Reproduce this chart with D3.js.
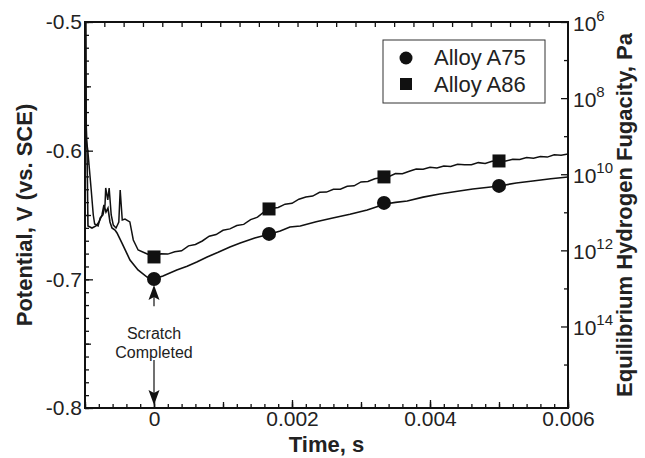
<!DOCTYPE html>
<meta charset="utf-8">
<script src="https://d3js.org/d3.v7.min.js"></script>
<style>
body { margin: 0; background: #fff; }
text { font-family: "Liberation Sans", Arial, sans-serif; fill: #222; }
.tick text { font-size: 21px; }
.title { font-size: 22px; font-weight: bold; }
</style>
<body>
<div id="chart"></div>
</body>
<script>

// Alloy A75 (circles) - potential, V vs SCE
const time75 = [-0.00099, -0.000986, -0.000971, -0.000957, -0.000899, -0.000841, -0.000797, -0.000754,
  -0.000725, -0.000696, -0.000667, -0.000638, -0.000609, -0.000565, -0.000536, -0.000464, -0.000348,
  -0.000232, -0.000101, 0, 0.00013, 0.00033, 0.00048, 0.00062, 0.00077, 0.00093, 0.0011, 0.00125,
  0.00146, 0.00168, 0.00183, 0.00197, 0.00212, 0.00235, 0.00259, 0.00284, 0.00309, 0.00335, 0.0035,
  0.00367, 0.0039, 0.00414, 0.0044, 0.00462, 0.00501, 0.00525, 0.00549, 0.00575, 0.006];
const pot75 = [-0.500, -0.5762, -0.5995, -0.6585, -0.6601, -0.6585, -0.6554, -0.6500,
  -0.6422, -0.6477, -0.6446, -0.6554, -0.6601, -0.6617, -0.6640, -0.6718, -0.6850,
  -0.6927, -0.6982, -0.6997, -0.6974, -0.6927, -0.6899, -0.6865, -0.6826, -0.6790, -0.6749, -0.6718,
  -0.6679, -0.6648, -0.6625, -0.6593, -0.6585, -0.6552, -0.6523, -0.6494, -0.6461, -0.6414, -0.6402,
  -0.6391, -0.6361, -0.6337, -0.6316, -0.6298, -0.6274, -0.6251, -0.6236, -0.6218, -0.6205];

// Alloy A86 (squares)
const time86 = [-0.00099, -0.00098, -0.00096, -0.00091, -0.00088, -0.00086, -0.00081, -0.00078, -0.00074,
  -0.00071, -0.0007, -0.00067, -0.00065, -0.00062, -0.00059, -0.00055, -0.00051, -0.00049, -0.00046,
  -0.00042, -0.00035, -0.0003, -0.00023, -0.00013,
  0, 0.0001, 0.0002, 0.0003, 0.0004, 0.0005, 0.0006, 0.0007, 0.0008, 0.0009, 0.001,
  0.0011, 0.0012, 0.0013, 0.0014, 0.0015, 0.0016, 0.0017, 0.0018, 0.0019, 0.002,
  0.0021, 0.0022, 0.0023, 0.0024, 0.0025, 0.0026, 0.0027, 0.0028, 0.0029, 0.003,
  0.0031, 0.0032, 0.0033, 0.0034, 0.0035, 0.0036, 0.0037, 0.0038, 0.0039, 0.004,
  0.0041, 0.0042, 0.0043, 0.0044, 0.0045, 0.0046, 0.0047, 0.0048, 0.0049, 0.005,
  0.0051, 0.0052, 0.0053, 0.0054, 0.0055, 0.0056, 0.0057, 0.0058, 0.0059, 0.006];
const pot86 = [-0.500, -0.5917, -0.5995, -0.6306, -0.6500, -0.6570, -0.6585, -0.6523, -0.6500,
  -0.6422, -0.6290, -0.6383, -0.6290, -0.6500, -0.6578, -0.6601, -0.6554, -0.6306, -0.6539,
  -0.6531, -0.6554, -0.6694, -0.6772, -0.6795,
  -0.6826, -0.6801, -0.6804, -0.6785, -0.6778, -0.6740, -0.6729, -0.6702, -0.6665, -0.6652, -0.6619,
  -0.6608, -0.6582, -0.6573, -0.6536, -0.6517, -0.6474, -0.6450, -0.6441, -0.6416, -0.6409,
  -0.6377, -0.6360, -0.6353, -0.6324, -0.6322, -0.6300, -0.6299, -0.6277, -0.6273, -0.6243,
  -0.6240, -0.6218, -0.6208, -0.6203, -0.6178, -0.6180, -0.6160, -0.6143, -0.6145, -0.6129,
  -0.6135, -0.6119, -0.6123, -0.6106, -0.6110, -0.6109, -0.6093, -0.6100, -0.6083, -0.6080,
  -0.6081, -0.6066, -0.6068, -0.6053, -0.6059, -0.6046, -0.6050, -0.6032, -0.6035, -0.6026];

// symbols along the curves
const markerTimes = [0, 0.001667, 0.003333, 0.005];
const marker75 = [-0.6997, -0.6647, -0.6406, -0.6274];
const marker86 = [-0.6826, -0.6453, -0.6204, -0.6080];

const xMajor = [0, 0.002, 0.004, 0.006];
const yMajor = [-0.8, -0.7, -0.6, -0.5];
const fugMajor = [6, 8, 10, 12, 14];   // exponents
const fugMinor = [7, 9, 11, 13, 15];
const legendNames = ["Alloy A75", "Alloy A86"];

const W = 645, H = 458;
const margin = {top: 22, right: 77, bottom: 50, left: 85};
const x0 = margin.left, x1 = W - margin.right, y0 = margin.top, y1 = H - margin.bottom;

const svg = d3.select("#chart").append("svg")
  .attr("width", W).attr("height", H);

const x = d3.scaleLinear().domain([-0.001, 0.006]).range([x0, x1]);
const y = d3.scaleLinear().domain([-0.8, -0.5]).range([y1, y0]);
// Nernst: one decade of fugacity = 0.02958 V
const yR = d3.scaleLog().domain([1e6, Math.pow(10, 6 + 0.3 / 0.02958)]).range([y0, y1]);

svg.append("defs").append("clipPath").attr("id", "clip")
  .append("rect").attr("x", x0).attr("y", y0).attr("width", x1 - x0).attr("height", y1 - y0);

function tickGroup(axis, tr) {
  const g = svg.append("g").attr("transform", tr).call(axis);
  g.select(".domain").remove();
  g.selectAll(".tick line").attr("stroke", "#111").attr("stroke-width", 1.3);
  return g;
}

// bottom axis: minor, medium, major
const xMinor = d3.range(-5, 31).map(i => i * 0.0002);
const xMed = d3.range(-1, 7).map(i => i * 0.001);
tickGroup(d3.axisBottom(x).tickValues(xMinor).tickSize(-4).tickFormat(""), `translate(0,${y1})`);
tickGroup(d3.axisBottom(x).tickValues(xMed).tickSize(-6).tickFormat(""), `translate(0,${y1})`);
tickGroup(d3.axisBottom(x).tickValues(xMajor).tickSize(-8).tickPadding(3)
  .tickFormat(d => d === 0 ? "0" : d.toFixed(3)), `translate(0,${y1})`);

// top axis ticks
const xTop = d3.scaleLinear().domain([0, 25]).range([x0, x1]);
tickGroup(d3.axisTop(xTop).tickValues(d3.range(1, 25)).tickSize(-5).tickFormat(""), `translate(0,${y0})`);

// left axis
const yMinor = d3.range(-80, -49).map(i => i / 100);
const yMed = [-0.75, -0.65, -0.55];
tickGroup(d3.axisLeft(y).tickValues(yMinor).tickSize(-4).tickFormat(""), `translate(${x0},0)`);
tickGroup(d3.axisLeft(y).tickValues(yMed).tickSize(-6).tickFormat(""), `translate(${x0},0)`);
tickGroup(d3.axisLeft(y).tickValues(yMajor).tickSize(-8).tickPadding(3)
  .tickFormat(d => d.toFixed(1)), `translate(${x0},0)`);

// right axis (log fugacity)
tickGroup(d3.axisRight(yR).tickValues(fugMinor.map(e => Math.pow(10, e))).tickSize(-4).tickFormat(""), `translate(${x1},0)`);
tickGroup(d3.axisRight(yR).tickValues(fugMajor.map(e => Math.pow(10, e))).tickSize(-7).tickFormat(""), `translate(${x1},0)`);
fugMajor.forEach(e => {
  const t = svg.append("text")
    .attr("x", x1 + 5)
    .attr("y", yR(Math.pow(10, e)) + 9)
    .style("font-size", "21px");
  t.append("tspan").text("10");
  t.append("tspan").attr("dy", -10).style("font-size", "15px").text(e);
});

// frame
svg.append("rect").attr("x", x0).attr("y", y0).attr("width", x1 - x0).attr("height", y1 - y0)
  .attr("fill", "none").attr("stroke", "#111").attr("stroke-width", 2);

// curves
const line = d3.line().x(d => x(d[0])).y(d => y(d[1]));
const plot = svg.append("g").attr("clip-path", "url(#clip)");
plot.append("path").datum(time86.map((t, i) => [t, pot86[i]]))
  .attr("d", line).attr("fill", "none").attr("stroke", "#111").attr("stroke-width", 1.5);
plot.append("path").datum(time75.map((t, i) => [t, pot75[i]]))
  .attr("d", line).attr("fill", "none").attr("stroke", "#111").attr("stroke-width", 1.6);

plot.selectAll("circle.m75").data(markerTimes).enter().append("circle")
  .attr("cx", d => x(d)).attr("cy", (d, i) => y(marker75[i])).attr("r", 7).attr("fill", "#111");
plot.selectAll("rect.m86").data(markerTimes).enter().append("rect")
  .attr("x", d => x(d) - 6.5).attr("y", (d, i) => y(marker86[i]) - 6.5)
  .attr("width", 13).attr("height", 13).attr("fill", "#111");

// scratch annotation
const ax = x(0);
const arrowHead = "M0,0L-5.5,15L0,12L5.5,15Z";
svg.append("line").attr("x1", ax).attr("x2", ax).attr("y1", y(-0.7045) + 10).attr("y2", y(-0.721))
  .attr("stroke", "#111").attr("stroke-width", 1.2);
svg.append("path").attr("d", arrowHead).attr("transform", `translate(${ax},${y(-0.7045)})`).attr("fill", "#111");
svg.append("line").attr("x1", ax).attr("x2", ax).attr("y1", y(-0.7627)).attr("y2", y(-0.7977) - 10)
  .attr("stroke", "#111").attr("stroke-width", 1.2);
svg.append("path").attr("d", arrowHead).attr("transform", `translate(${ax},${y(-0.7977)}) rotate(180)`).attr("fill", "#111");
svg.append("text").attr("x", ax).attr("y", y(-0.7462)).attr("text-anchor", "middle")
  .style("font-size", "16px").text("Scratch");
svg.append("text").attr("x", ax).attr("y", y(-0.7609)).attr("text-anchor", "middle")
  .style("font-size", "16px").text("Completed");

// legend
const lg = svg.append("g");
lg.append("rect").attr("x", 383).attr("y", 40).attr("width", 162).attr("height", 63)
  .attr("fill", "#fff").attr("stroke", "#333").attr("stroke-width", 1);
lg.append("circle").attr("cx", 406).attr("cy", 58).attr("r", 6.5).attr("fill", "#111");
lg.append("rect").attr("x", 400).attr("y", 78).attr("width", 12).attr("height", 12).attr("fill", "#111");
lg.selectAll("text.leg").data(legendNames).enter().append("text")
  .attr("x", 434).attr("y", (d, i) => 65 + i * 27).style("font-size", "22px").text(d => d);

// axis titles
svg.append("text").attr("class", "title").attr("text-anchor", "middle")
  .attr("transform", `translate(32,${(y0 + y1) / 2}) rotate(-90)`).text("Potential, V (vs. SCE)");
svg.append("text").attr("class", "title").attr("text-anchor", "middle")
  .attr("transform", `translate(632,${(y0 + y1) / 2}) rotate(-90)`).text("Equilibrium Hydrogen Fugacity, Pa");
svg.append("text").attr("class", "title").attr("text-anchor", "middle")
  .attr("x", (x0 + x1) / 2).attr("y", 452).text("Time, s");

</script>
